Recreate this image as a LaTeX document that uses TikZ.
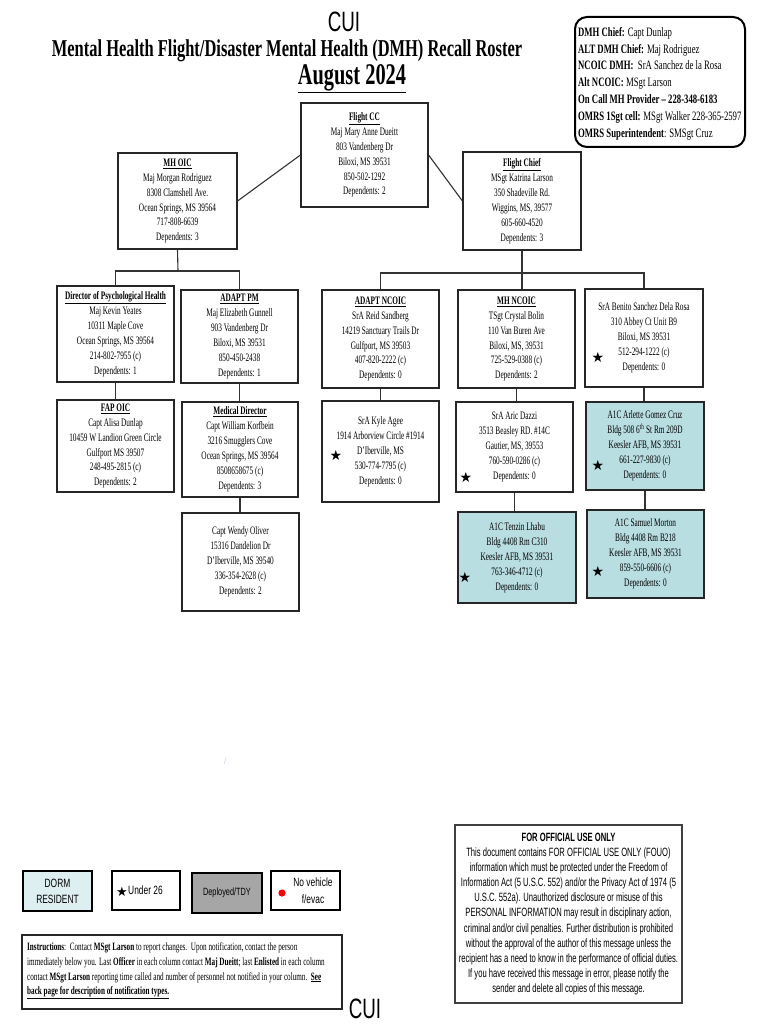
\documentclass[tikz,border=0pt]{standalone}
\usepackage{fontspec}
\setmainfont{Liberation Serif}
\newfontfamily\titlefont{Liberation Serif}[FakeStretch=0.68]
\newfontfamily\boxfont{Liberation Serif}[FakeStretch=0.64]
\newfontfamily\cuifont{Liberation Sans}[FakeStretch=0.67]
\newfontfamily\legfont{Liberation Sans}[FakeStretch=0.7]
\newfontfamily\fouofont{Liberation Sans}[FakeStretch=0.635]
\newfontfamily\symfont{DejaVu Sans}
\newcommand\boxhead[1]{\underline{\textbf{#1}}}
\definecolor{dormblue}{RGB}{185,222,226}
\definecolor{dormpale}{RGB}{222,239,241}
\definecolor{deplgray}{RGB}{166,166,166}
\begin{document}
\begin{tikzpicture}[x=1pt,y=-1pt,
  rbox/.style={draw=black!85, line width=1.1pt, inner sep=0pt, align=center,
    font=\boxfont\fontsize{11.4}{14.9}\selectfont},
  legbox/.style={draw=black, line width=2.4pt, inner sep=0pt, align=center,
    minimum width=69pt, minimum height=40pt},
  conn/.style={draw=black!80, line width=1.1pt},
  starmark/.style={font=\symfont\fontsize{14}{14}\selectfont, inner sep=0pt}]
\useasboundingbox[fill=white] (0,0) rectangle (768,1024);

% titles
\node[font=\cuifont\fontsize{28}{28}\selectfont, inner sep=0pt] (cuitop) at (344,22) {CUI};
\node[font=\titlefont\fontsize{24.2}{24}\selectfont\bfseries, inner sep=0pt] (title) at (287,51) {Mental Health Flight/Disaster Mental Health (DMH) Recall Roster};
\node[font=\titlefont\fontsize{30}{30}\selectfont\bfseries, inner sep=0pt] (month) at (352,79) {\underline{August 2024}};

% info box top right
\node[draw=black, line width=2pt, rounded corners=12pt, minimum width=170pt, minimum height=130pt, inner sep=0pt] (info) at (660,82) {};
\node[anchor=north west, align=left, inner sep=0pt, font=\titlefont\fontsize{12.8}{16.8}\selectfont] (infotext) at (578,27)
{\textbf{DMH Chief:} Capt Dunlap\\
\textbf{ALT DMH Chief:} Maj Rodriguez\\
\textbf{NCOIC DMH:}\ \ SrA Sanchez de la Rosa\\
\textbf{Alt NCOIC:} MSgt Larson\\
\textbf{On Call MH Provider – 228-348-6183}\\
\textbf{OMRS 1Sgt cell:} MSgt Walker 228-365-2597\\
\textbf{OMRS Superintendent}: SMSgt Cruz};

% top level
\node[rbox, minimum width=127pt, minimum height=104pt] (flightcc) at (364.5,155)
{\boxhead{Flight CC}\\Maj Mary Anne Dueitt\\803 Vandenberg Dr\\Biloxi, MS 39531\\850-502-1292\\Dependents: 2};
\node[rbox, minimum width=119pt, minimum height=96pt] (mhoic) at (177.5,201)
{\boxhead{MH OIC}\\Maj Morgan Rodriguez\\8308 Clamshell Ave.\\Ocean Springs, MS 39564\\717-808-6639\\Dependents: 3};
\node[rbox, minimum width=118pt, minimum height=98pt] (flightchief) at (522,201)
{\boxhead{Flight Chief}\\MSgt Katrina Larson\\350 Shadeville Rd.\\Wiggins, MS, 39577\\605-660-4520\\Dependents: 3};

% row 2
\node[rbox, minimum width=117pt, minimum height=96pt] (dph) at (115.5,334)
{\boxhead{Director of Psychological Health}\\Maj Kevin Yeates\\10311 Maple Cove\\Ocean Springs, MS 39564\\214-802-7955 (c)\\Dependents: 1};
\node[rbox, minimum width=117pt, minimum height=93pt] (adaptpm) at (239.5,336.5)
{\boxhead{ADAPT PM}\\Maj Elizabeth Gunnell\\903 Vandenberg Dr\\Biloxi, MS 39531\\850-450-2438\\Dependents: 1};
\node[rbox, minimum width=117pt, minimum height=98pt] (adaptncoic) at (380.5,339)
{\boxhead{ADAPT NCOIC}\\SrA Reid Sandberg\\14219 Sanctuary Trails Dr\\Gulfport, MS 39503\\407-820-2222 (c)\\Dependents: 0};
\node[rbox, minimum width=117pt, minimum height=98pt] (mhncoic) at (516.5,339)
{\boxhead{MH NCOIC}\\TSgt Crystal Bolin\\110 Van Buren Ave\\Biloxi, MS, 39531\\725-529-0388 (c)\\Dependents: 2};
\node[rbox, minimum width=118pt, minimum height=98pt] (benito) at (644,338)
{SrA Benito Sanchez Dela Rosa\\310 Abbey Ct Unit B9\\Biloxi, MS 39531\\512-294-1222 (c)\\Dependents: 0};

% row 3
\node[rbox, minimum width=117pt, minimum height=92pt] (fapoic) at (115.5,446)
{\boxhead{FAP OIC}\\Capt Alisa Dunlap\\10459 W Landion Green Circle\\Gulfport MS 39507\\248-495-2815 (c)\\Dependents: 2};
\node[rbox, minimum width=116pt, minimum height=95pt] (meddir) at (240,449.5)
{\boxhead{Medical Director}\\Capt William Korfbein\\3216 Smugglers Cove\\Ocean Springs, MS 39564\\8508658675 (c)\\Dependents: 3};
\node[rbox, minimum width=117pt, minimum height=101pt] (kyle) at (380.5,451.5)
{SrA Kyle Agee\\1914 Arborview Circle \#1914\\D’Iberville, MS\\530-774-7795 (c)\\Dependents: 0};
\node[rbox, minimum width=117pt, minimum height=90pt] (dazzi) at (514.5,447)
{SrA Aric Dazzi\\3513 Beasley RD. \#14C\\Gautier, MS, 39553\\760-590-0286 (c)\\Dependents: 0};
\node[rbox, fill=dormblue, minimum width=118pt, minimum height=88pt] (arlette) at (645,446)
{A1C Arlette Gomez Cruz\\Bldg 508 6\textsuperscript{th} St Rm 209D\\Keesler AFB, MS 39531\\661-227-9830 (c)\\Dependents: 0};

% row 4
\node[rbox, minimum width=117pt, minimum height=98pt] (wendy) at (240.5,562)
{Capt Wendy Oliver\\15316 Dandelion Dr\\D’Iberville, MS 39540\\336-354-2628 (c)\\Dependents: 2};
\node[rbox, fill=dormblue, minimum width=118pt, minimum height=91pt] (tenzin) at (517,557.5)
{A1C Tenzin Lhabu\\Bldg 4408 Rm C310\\Keesler AFB, MS 39531\\763-346-4712 (c)\\Dependents: 0};
\node[rbox, fill=dormblue, minimum width=117pt, minimum height=88pt] (samuel) at (645.5,554)
{A1C Samuel Morton\\Bldg 4408 Rm B218\\Keesler AFB, MS 39531\\859-550-6606 (c)\\Dependents: 0};

% stars
\node[starmark] (st1) at (598,357) {★};
\node[starmark] (st2) at (336,455) {★};
\node[starmark] (st3) at (466,477) {★};
\node[starmark] (st4) at (598,465) {★};
\node[starmark] (st5) at (465,577) {★};
\node[starmark] (st6) at (598,571) {★};

% connectors
\draw[conn] (mhoic.east) -- (flightcc.west);
\draw[conn] (flightcc.east) -- (flightchief.west);
\coordinate (busL) at (178,271);
\coordinate (busR) at (522,273);
\draw[conn] (mhoic.south) -- (busL);
\draw[conn] (dph.north) |- (busL) -| (adaptpm.north);
\draw[conn] (flightchief.south) -- (flightchief.south |- mhncoic.north);
\draw[conn] (adaptncoic.north) |- (busR) -| (benito.north);
\draw[conn] (dph.south) -- (dph.south |- fapoic.north);
\draw[conn] (adaptpm.south) -- (adaptpm.south |- meddir.north);
\draw[conn] (meddir.south) -- (meddir.south |- wendy.north);
\draw[conn] (adaptncoic.south) -- (adaptncoic.south |- kyle.north);
\draw[conn] (mhncoic.south) -- (mhncoic.south |- dazzi.north);
\draw[conn] (dazzi.south) -- (dazzi.south |- tenzin.north);
\draw[conn] (benito.south) -- (benito.south |- arlette.north);
\draw[conn] (arlette.south) -- (arlette.south |- samuel.north);

% stray mark
\node[text=cyan!50!blue!40, font=\fontsize{9}{9}\selectfont, inner sep=0pt] (stray) at (225,762) {/};

% legend
\node[legbox, fill=dormpale, font=\legfont\fontsize{12}{16}\selectfont] (dorm) at (57.5,891) {DORM\\RESIDENT};
\node[legbox, minimum width=68pt, minimum height=39pt] (under) at (146,890.5) {};
\node[starmark, font=\symfont\fontsize{13}{13}\selectfont] (legstar) at (122,892) {★};
\node[anchor=west, inner sep=0pt, font=\legfont\fontsize{12}{12}\selectfont] (undertext) at (128,890) {Under 26};
\node[legbox, fill=deplgray, minimum width=70pt, font=\legfont\fontsize{10.5}{12}\selectfont] (deployed) at (227,893) {Deployed/TDY};
\node[legbox, minimum height=39pt] (noveh) at (305.5,890.5) {};
\fill[red] (282,893) circle (3.6pt);
\node[inner sep=0pt, align=center, font=\legfont\fontsize{12}{17}\selectfont] (novehtext) at (313,891) {No vehicle\\f/evac};

% FOUO
\node[draw=black!75, line width=1.2pt, minimum width=227pt, minimum height=178pt, inner sep=0pt, align=center,
  font=\fouofont\fontsize{12}{15.1}\selectfont] (fouo) at (568.5,914)
{\textbf{FOR OFFICIAL USE ONLY}\\
This document contains FOR OFFICIAL USE ONLY (FOUO)\\
information which must be protected under the Freedom of\\
Information Act (5 U.S.C. 552) and/or the Privacy Act of 1974 (5\\
U.S.C. 552a). Unauthorized disclosure or misuse of this\\
PERSONAL INFORMATION may result in disciplinary action,\\
criminal and/or civil penalties. Further distribution is prohibited\\
without the approval of the author of this message unless the\\
recipient has a need to know in the performance of official duties.\\
If you have received this message in error, please notify the\\
sender and delete all copies of this message.};

% instructions
\node[draw=black!85, line width=1.2pt, minimum width=320pt, minimum height=74pt, inner sep=0pt] (instr) at (182,972) {};
\node[anchor=west, align=left, inner sep=0pt, font=\boxfont\fontsize{11.2}{14.6}\selectfont] (instrtext) at (27,971)
{\textbf{Instructions}:\ \ Contact \textbf{MSgt Larson} to report changes.\ \ Upon notification, contact the person\\
immediately below you. Last \textbf{Officer} in each column contact \textbf{Maj Dueitt}; last \textbf{Enlisted} in each column\\
contact \textbf{MSgt Larson} reporting time called and number of personnel not notified in your column.\ \ \textbf{\underline{See}}\\
\textbf{\underline{back page for description of notification types.}}};
\node[font=\cuifont\fontsize{28}{28}\selectfont, inner sep=0pt] (cuibottom) at (365,1009) {CUI};
\end{tikzpicture}
\end{document}
